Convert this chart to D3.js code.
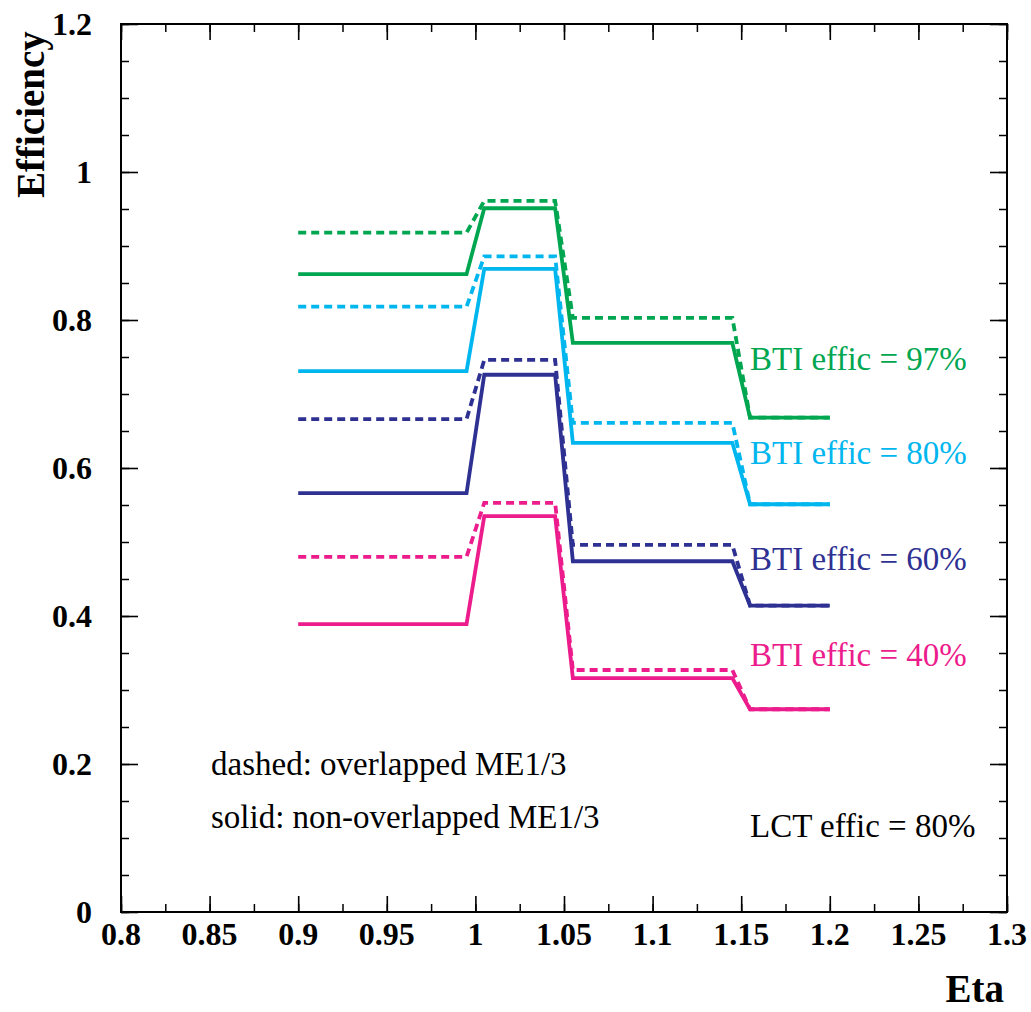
<!DOCTYPE html>
<html>
<head>
<meta charset="utf-8">
<script src="https://cdn.jsdelivr.net/npm/d3@7"></script>
<style>
  html, body { margin: 0; padding: 0; background: #fff; }
  svg { display: block; }
</style>
</head>
<body>
<svg id="chart" width="1031" height="1012"></svg>
<script>
// ---- data ----
const eta = [0.9, 0.995, 1.005, 1.045, 1.055, 1.145, 1.155, 1.2];

const green97Solid  = [0.862, 0.862, 0.951, 0.951, 0.769, 0.769, 0.668, 0.668];
const green97Dashed = [0.918, 0.918, 0.961, 0.961, 0.803, 0.803, 0.668, 0.668];
const cyan80Solid   = [0.731, 0.731, 0.869, 0.869, 0.634, 0.634, 0.551, 0.551];
const cyan80Dashed  = [0.818, 0.818, 0.886, 0.886, 0.661, 0.661, 0.551, 0.551];
const navy60Solid   = [0.566, 0.566, 0.726, 0.726, 0.474, 0.474, 0.414, 0.414];
const navy60Dashed  = [0.666, 0.666, 0.746, 0.746, 0.496, 0.496, 0.414, 0.414];
const pink40Solid   = [0.389, 0.389, 0.535, 0.535, 0.316, 0.316, 0.274, 0.274];
const pink40Dashed  = [0.480, 0.480, 0.553, 0.553, 0.327, 0.327, 0.274, 0.274];

const seriesLabels = ["BTI effic = 97%", "BTI effic = 80%", "BTI effic = 60%", "BTI effic = 40%"];
const seriesColors = ["#00a650", "#00b6ee", "#2e3192", "#ec1c8c"];
const labelValues  = [0.733, 0.605, 0.462, 0.333];

const xTicks = [0.8, 0.85, 0.9, 0.95, 1, 1.05, 1.1, 1.15, 1.2, 1.25, 1.3];
const xTickLabels = ["0.8", "0.85", "0.9", "0.95", "1", "1.05", "1.1", "1.15", "1.2", "1.25", "1.3"];
const yTicks = [0, 0.2, 0.4, 0.6, 0.8, 1, 1.2];
const yTickLabels = ["0", "0.2", "0.4", "0.6", "0.8", "1", "1.2"];

// ---- layout ----
const FONT = '"Liberation Serif", "Times New Roman", Times, serif';
const svg = d3.select("#chart").attr("font-family", FONT);
const L = 121, R = 1007, T = 24, B = 912;
const x = d3.scaleLinear().domain([0.8, 1.3]).range([L, R]);
const y = d3.scaleLinear().domain([0, 1.2]).range([B, T]);

const series = [
  { solid: green97Solid, dashed: green97Dashed },
  { solid: cyan80Solid,  dashed: cyan80Dashed },
  { solid: navy60Solid,  dashed: navy60Dashed },
  { solid: pink40Solid,  dashed: pink40Dashed }
];

const xMinor = d3.range(0.8, 1.3001, 0.025);
const yMinor = d3.range(0, 1.2001, 0.05);

function styleAxis(g, w) {
  g.select(".domain").remove();
  g.selectAll("line").attr("stroke", "#000").attr("stroke-width", w);
  g.selectAll("text").remove();
}

svg.append("g").attr("transform", `translate(0,${B})`)
  .call(d3.axisBottom(x).tickValues(xMinor).tickSize(-8)).call(g => styleAxis(g, 1.5));
svg.append("g").attr("transform", `translate(0,${B})`)
  .call(d3.axisBottom(x).tickValues(xTicks).tickSize(-16)).call(g => styleAxis(g, 1.6));
svg.append("g").attr("transform", `translate(0,${T})`)
  .call(d3.axisTop(x).tickValues(xMinor).tickSize(-8)).call(g => styleAxis(g, 1.5));
svg.append("g").attr("transform", `translate(0,${T})`)
  .call(d3.axisTop(x).tickValues(xTicks).tickSize(-16)).call(g => styleAxis(g, 1.6));

svg.append("g").attr("transform", `translate(${L},0)`)
  .call(d3.axisLeft(y).tickValues(yMinor).tickSize(-8)).call(g => styleAxis(g, 1.5));
svg.append("g").attr("transform", `translate(${L},0)`)
  .call(d3.axisLeft(y).tickValues(yTicks).tickSize(-17)).call(g => styleAxis(g, 1.6));
svg.append("g").attr("transform", `translate(${R},0)`)
  .call(d3.axisRight(y).tickValues(yMinor).tickSize(-8)).call(g => styleAxis(g, 1.5));
svg.append("g").attr("transform", `translate(${R},0)`)
  .call(d3.axisRight(y).tickValues(yTicks).tickSize(-17)).call(g => styleAxis(g, 1.6));

// frame
svg.append("rect")
  .attr("x", L).attr("y", T).attr("width", R - L).attr("height", B - T)
  .attr("fill", "none").attr("stroke", "#000").attr("stroke-width", 2);

// tick labels
svg.append("g").selectAll("text").data(xTicks).join("text")
  .attr("x", d => x(d)).attr("y", 945)
  .attr("text-anchor", "middle")
  .attr("font-size", 32).attr("font-weight", "bold")
  .text((d, i) => xTickLabels[i]);

svg.append("g").selectAll("text").data(yTicks).join("text")
  .attr("x", 92).attr("y", d => y(d))
  .attr("dy", "0.34em")
  .attr("text-anchor", "end")
  .attr("font-size", 32).attr("font-weight", "bold")
  .text((d, i) => yTickLabels[i]);

// axis titles
svg.append("text")
  .attr("x", 1004).attr("y", 1002)
  .attr("text-anchor", "end")
  .attr("font-size", 39).attr("font-weight", "bold")
  .text("Eta");

svg.append("text")
  .attr("transform", "translate(44,198) rotate(-90)")
  .attr("text-anchor", "start")
  .attr("font-size", 39).attr("font-weight", "bold")
  .text("Efficiency");

// lines
const line = d3.line().x((d, i) => x(eta[i])).y(d => y(d));
series.forEach((s, k) => {
  svg.append("path").attr("d", line(s.solid))
    .attr("fill", "none").attr("stroke", seriesColors[k])
    .attr("stroke-width", 3.8).attr("stroke-linejoin", "miter");
});
series.forEach((s, k) => {
  svg.append("path").attr("d", line(s.dashed))
    .attr("fill", "none").attr("stroke", seriesColors[k])
    .attr("stroke-width", 3.8).attr("stroke-dasharray", "8,5");
});

// series labels
svg.append("g").selectAll("text").data(seriesLabels).join("text")
  .attr("x", 750).attr("y", (d, i) => y(labelValues[i]))
  .attr("font-size", 33)
  .attr("fill", (d, i) => seriesColors[i])
  .text(d => d);

// notes
svg.append("text").attr("x", 211).attr("y", 775).attr("font-size", 33)
  .text("dashed: overlapped ME1/3");
svg.append("text").attr("x", 211).attr("y", 828).attr("font-size", 33)
  .text("solid: non-overlapped ME1/3");
svg.append("text").attr("x", 750).attr("y", 837).attr("font-size", 33)
  .text("LCT effic = 80%");
</script>
</body>
</html>
